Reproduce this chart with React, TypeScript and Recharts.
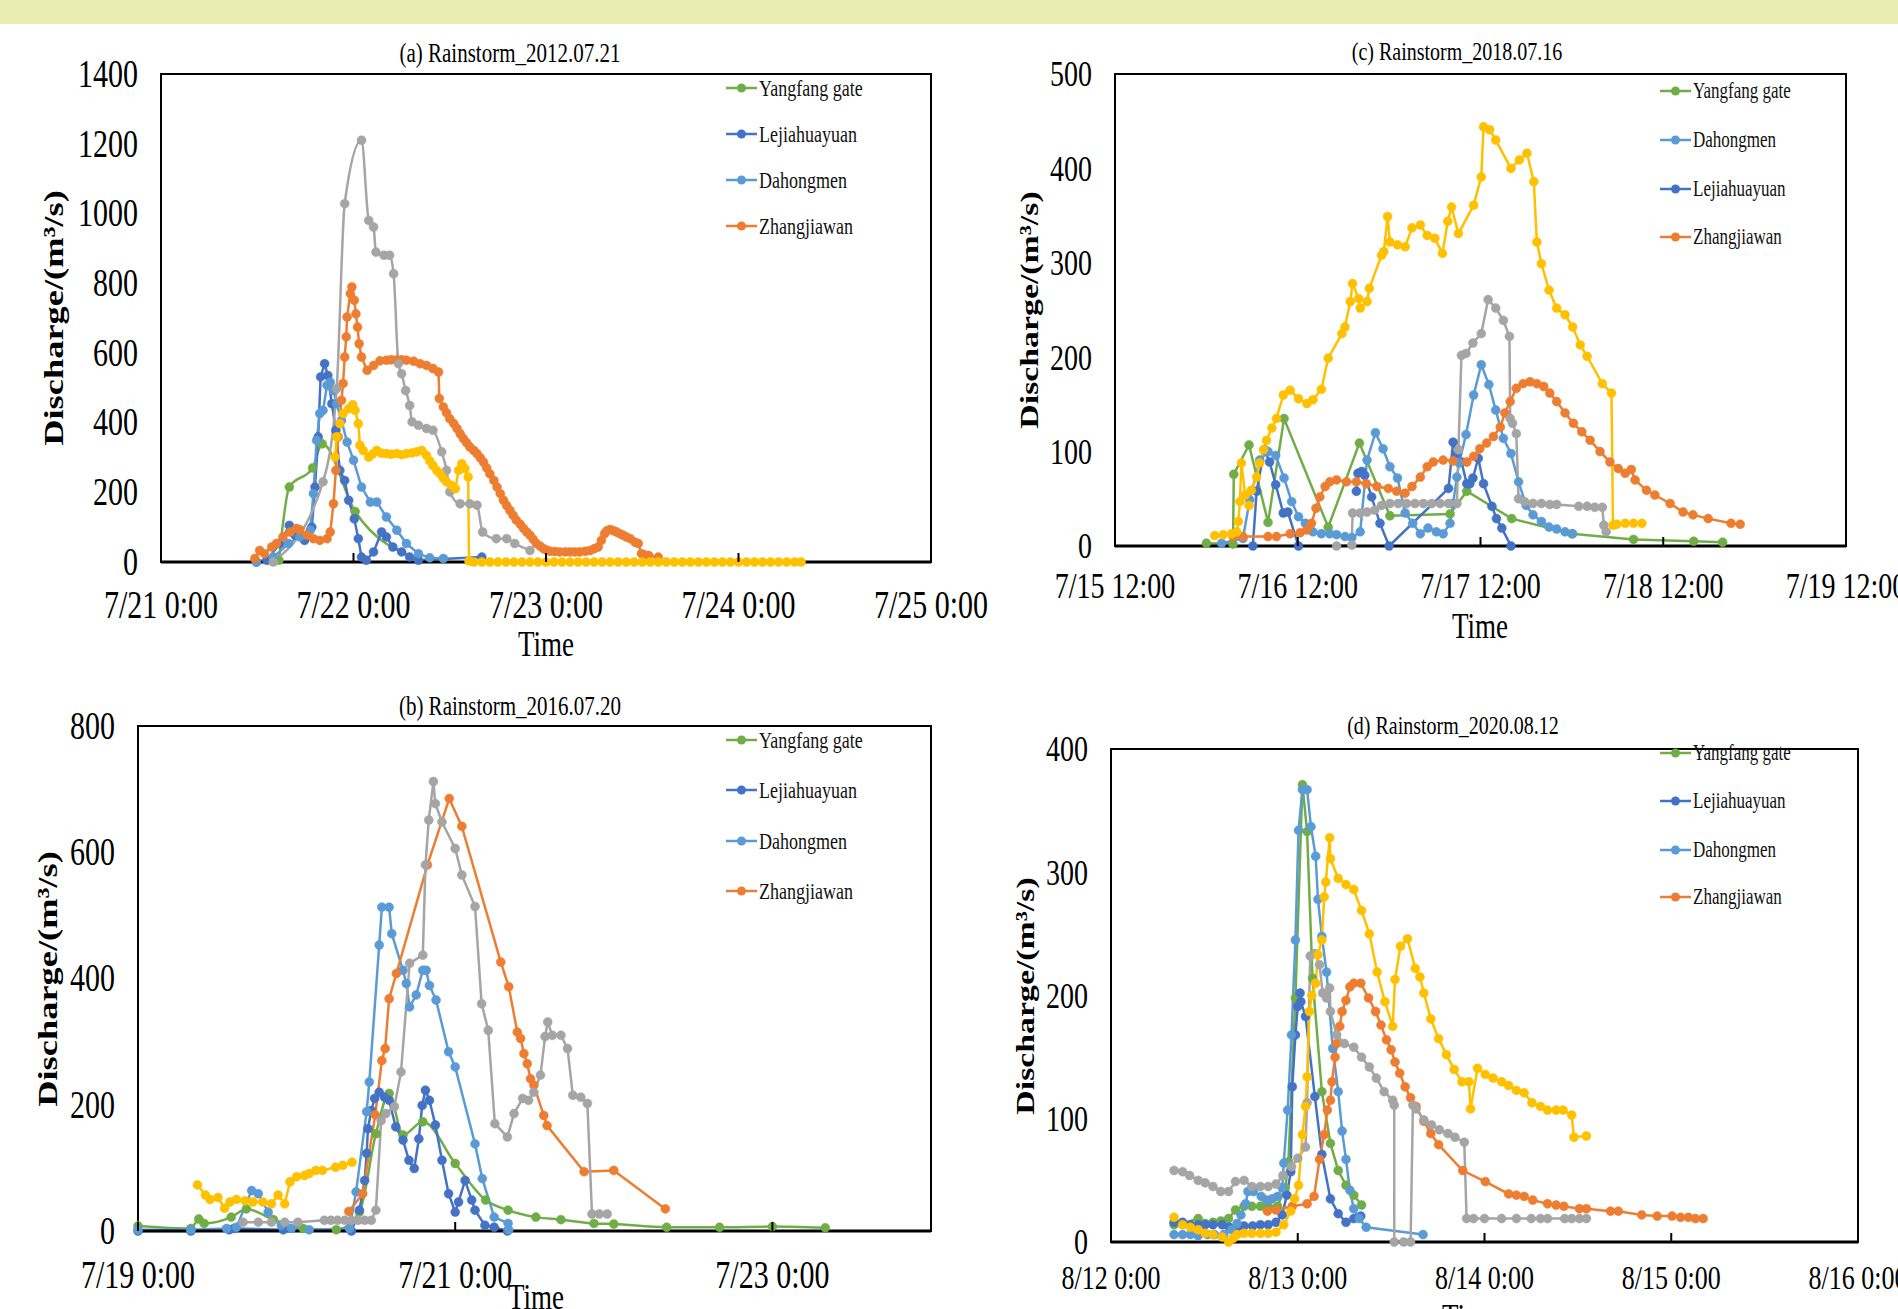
import { LineChart, Line, XAxis, YAxis, ReferenceArea } from 'recharts';

const SERIF = '"Liberation Serif", "Times New Roman", serif';

const GREEN = '#70AD47';
const DARK = '#4472C4';
const LIGHT = '#5B9BD5';
const ORANGE = '#ED7D31';
const GRAY = '#A5A5A5';
const YELLOW = '#FFC000';

// [hours since first axis tick, discharge m3/s]
type Pt = [number, number | null];

// ---- (a) Rainstorm_2012.07.21, hours after 7/21 0:00
const aGreen: Pt[] = [[14.7, 5], [16.0, 215], [18.9, 270], [20.1, 339], [24.2, 145], [32.0, 10]];
const aDark: Pt[] = [
  [11.9, 0], [13.2, 5], [14.8, 53], [16.0, 105], [16.7, 77], [17.9, 62], [18.8, 100], [19.2, 215], [19.6, 359],
  [19.9, 531], [20.4, 569], [20.8, 535], [21.3, 454], [21.8, 378], [22.3, 263], [22.9, 234], [23.4, 177], [24.1, 124],
  [24.6, 67], [25.0, 14], [25.6, 5], [26.5, 29], [27.5, 86], [28.1, 72], [28.9, 43], [30.0, 29], [31.0, 14], [32.1, 5],
  [40.0, 14],
];
const aLight: Pt[] = [
  [11.9, 0], [14.0, 14], [15.9, 53], [17.3, 72], [18.6, 91], [19.0, 196], [19.4, 349], [19.8, 426], [20.2, 435],
  [20.7, 507], [21.1, 516], [21.5, 492], [21.9, 454], [22.5, 406], [23.2, 344], [24.0, 292], [25.0, 215], [26.1, 172],
  [26.9, 172], [28.1, 129], [29.4, 91], [30.6, 53], [32.1, 24], [33.5, 12], [35.2, 10],
];
const aOrange: Pt[] = [
  [11.7, 10], [12.3, 33], [12.9, 24], [13.8, 43], [14.4, 53], [15.2, 72], [16.1, 86], [16.9, 96], [17.3, 93], [18.2, 77],
  [19.0, 67], [19.8, 62], [20.7, 67], [21.1, 86], [21.5, 167], [21.8, 263], [22.1, 359], [22.5, 464], [22.7, 512],
  [22.9, 588], [23.1, 646], [23.2, 703], [23.6, 770], [23.8, 789], [24.1, 751], [24.3, 712], [24.5, 674], [24.7, 626],
  [25.0, 588], [25.7, 550], [26.5, 564], [27.3, 577], [28.1, 579], [28.7, 580], [29.4, 580], [30.0, 580], [30.6, 579],
  [31.5, 576], [32.3, 569], [33.1, 564], [33.9, 555], [34.6, 545], [34.7, 469], [35.2, 445], [35.6, 428], [36.0, 411],
  [36.5, 397], [36.9, 383], [37.3, 368], [37.7, 354], [38.1, 342], [38.5, 330], [39.0, 320], [39.4, 311], [39.8, 299],
  [40.2, 287], [40.6, 270], [41.0, 253], [41.5, 234], [41.9, 215], [42.3, 196], [42.7, 177], [43.1, 162], [43.5, 148],
  [43.9, 134], [44.3, 120], [44.8, 108], [45.2, 96], [45.6, 86], [46.0, 77], [46.4, 65], [46.8, 53], [47.3, 45],
  [47.7, 38], [48.1, 34], [48.5, 31], [49.1, 30], [49.7, 29], [50.4, 29], [51.0, 29], [51.6, 29], [52.2, 29], [52.9, 31],
  [53.5, 33], [54.0, 38], [54.5, 43], [54.9, 62], [55.3, 81], [55.6, 90], [56.0, 93], [56.4, 90], [56.8, 86], [57.2, 81],
  [57.6, 77], [58.0, 72], [58.5, 67], [59.1, 57], [59.5, 53], [59.9, 24], [60.3, 20], [60.8, 19], [62.0, 14],
];
const aGray: Pt[] = [
  [14.0, 0], [20.2, 230], [21.9, 497], [22.9, 1028], [25.0, 1210], [25.9, 980], [26.5, 961], [26.8, 889], [27.8, 880],
  [28.5, 880], [29.0, 827], [29.6, 569], [30.0, 540], [30.5, 492], [31.0, 449], [31.3, 402], [32.1, 392], [33.1, 383],
  [33.9, 378], [35.0, 316], [35.6, 263], [36.0, 201], [37.3, 167], [38.5, 167], [39.4, 163], [40.1, 86], [41.8, 67],
  [43.1, 67], [44.1, 53], [46.0, 33],
];
const aYellow: Pt[] = [
  [21.7, 301], [21.9, 359], [22.3, 397], [22.7, 426], [23.4, 440], [23.9, 451], [24.2, 435], [24.6, 397], [24.8, 335],
  [25.2, 320], [25.9, 301], [26.4, 310], [26.9, 320], [27.5, 312], [28.1, 311], [28.7, 309], [29.4, 311], [30.0, 308],
  [30.6, 311], [31.3, 313], [31.9, 316], [32.5, 320], [33.1, 306], [33.5, 290], [33.9, 277], [34.4, 262], [34.8, 253],
  [35.2, 240], [35.6, 230], [36.2, 220], [36.7, 210], [37.1, 263], [37.5, 282], [37.9, 268], [38.3, 244], [38.4, 3],
  [39, 0], [40, 0], [41, 0], [42, 0], [43, 0], [44, 0], [45, 0], [46, 0], [47, 0], [48, 0], [49, 0], [50, 0], [51, 0],
  [52, 0], [53, 0], [54, 0], [55, 0], [56, 0], [57, 0], [58, 0], [59, 0], [60, 0], [61, 0], [62, 0], [63, 0], [64, 0],
  [65, 0], [66, 0], [67, 0], [68, 0], [69, 0], [70, 0], [71, 0], [72, 0], [73, 0], [74, 0], [75, 0], [76, 0], [77, 0],
  [78, 0], [79, 0], [79.8, 0],
];

// ---- (b) Rainstorm_2016.07.20, hours after 7/19 0:00
const bGreen: Pt[] = [
  [0, 8], [8.0, 4], [9.2, 19], [10.0, 12], [14.1, 22], [16.4, 35], [20.5, 18], [25.0, 4], [30.0, 2], [33.5, 30],
  [36.0, 154], [38.0, 218], [40.1, 152], [43.1, 173], [48.0, 107], [52.6, 49], [56.0, 33], [60.2, 22], [64.0, 18],
  [69.0, 12], [72.0, 11], [80.0, 6], [88.0, 6], [96.0, 7], [104.0, 5],
];
const bDark: Pt[] = [
  [0, 0], [8.0, 0], [13.8, 2], [14.5, 4], [22.0, 2], [32.3, 0], [33.5, 33], [34.3, 80], [34.6, 123], [34.8, 162],
  [35.3, 191], [35.8, 210], [36.5, 220], [37.3, 212], [38.0, 207], [39.0, 165], [40.1, 144], [41.0, 112], [41.8, 99],
  [42.5, 146], [43.0, 199], [43.5, 223], [44.1, 207], [45.0, 168], [46.0, 112], [47.0, 59], [48.0, 30], [48.5, 46],
  [49.5, 80], [50.5, 49], [51.0, 33], [52.5, 9], [53.9, 6], [55.9, 0],
];
const bLight: Pt[] = [
  [0, 2], [8.0, 2], [13.4, 4], [14.9, 6], [17.2, 64], [18.2, 59], [19.7, 30], [21.7, 9], [23.2, 4], [25.9, 2],
  [32.0, 4], [33.0, 62], [34.6, 189], [35.0, 236], [36.5, 453], [36.9, 513], [38.0, 513], [38.4, 471], [40.1, 413],
  [40.6, 392], [41.1, 355], [42.1, 374], [43.1, 413], [43.6, 413], [44.1, 389], [45.1, 366], [47.0, 284], [48.0, 260],
  [51.0, 138], [52.1, 83], [53.9, 22], [56.0, 12], [56.1, 2],
];
const bOrange: Pt[] = [
  [31.9, 31], [34.0, 59], [35.9, 184], [36.9, 270], [37.4, 289], [38.0, 368], [39.1, 408], [43.8, 580], [47.1, 685],
  [49.0, 641], [54.9, 426], [56.1, 387], [57.4, 315], [57.9, 305], [58.4, 281], [58.9, 265], [59.4, 241], [59.9, 231],
  [61.4, 183], [61.9, 167], [67.5, 94], [72.0, 96], [79.8, 35],
];
const bGray: Pt[] = [
  [15.9, 14], [18.2, 14], [20.2, 14], [22.2, 14], [24.2, 14], [28.2, 17], [29.2, 17], [30.2, 17], [31.3, 17],
  [32.3, 17], [33.3, 17], [34.3, 17], [35.3, 17], [36.0, 33], [36.8, 175], [37.5, 186], [38.8, 197], [39.8, 252],
  [41.1, 424], [43.1, 437], [43.5, 580], [44.0, 651], [44.7, 712], [45.0, 677], [46.0, 648], [48.0, 606], [49.0, 564],
  [51.0, 514], [52.0, 360], [53.0, 318], [54.0, 170], [55.9, 149], [56.9, 186], [58.2, 210], [59.1, 207], [59.9, 220],
  [60.9, 247], [61.6, 308], [62.0, 331], [62.7, 310], [64.0, 310], [65.0, 289], [65.8, 215], [67.0, 212], [68.0, 202],
  [68.7, 27], [69.8, 27], [71.0, 27],
];
const bYellow: Pt[] = [
  [9.0, 73], [10.2, 57], [10.9, 50], [12.1, 53], [13.1, 36], [13.9, 46], [14.9, 50], [16.2, 48], [17.4, 46], [18.9, 46],
  [20.2, 43], [21.2, 57], [22.2, 43], [23.0, 78], [24.0, 86], [25.2, 88], [25.9, 91], [26.9, 96], [27.9, 96],
  [29.9, 101], [31.0, 104], [32.4, 109],
];

// ---- (c) Rainstorm_2018.07.16, hours after 7/15 12:00
const cGreen: Pt[] = [
  [12.0, 3], [15.5, 2], [15.6, 76], [17.6, 107], [20.1, 25], [22.2, 135], [28.0, 20], [32.1, 109], [36.1, 32],
  [44.0, 34], [46.2, 58], [52.1, 29], [60.0, 13], [68.1, 7], [76.0, 5], [79.8, 4],
];
const cLight: Pt[] = [
  [14.0, 3], [16.8, 8], [17.7, 49], [19.0, 91], [20.1, 100], [21.1, 96], [22.2, 72], [23.2, 47], [24.1, 31], [25.0, 24],
  [26.0, 15], [27.1, 13], [28.2, 13], [29.1, 12], [30.2, 10], [31.1, 9], [32.2, 15], [33.1, 91], [34.2, 120],
  [35.2, 103], [36.1, 84], [37.1, 72], [38.1, 35], [39.1, 24], [40.1, 13], [41.1, 19], [42.2, 15], [43.1, 13],
  [44.0, 24], [44.4, 45], [44.9, 73], [45.2, 88], [46.1, 118], [47.1, 160], [48.1, 192], [49.1, 171], [50.0, 144],
  [51.0, 114], [52.0, 98], [53.0, 68], [54.0, 43], [54.9, 33], [56.0, 26], [57.0, 20], [58.0, 18], [59.1, 15], [60.1, 13],
];
const cDark: Pt[] = [
  [18.1, 0], [18.6, 58], [19.6, 102], [20.3, 89], [21.1, 65], [22.1, 35], [22.7, 36], [24.1, 0], [28.0, null],
  [31.7, 58], [31.9, 77], [32.4, 79], [32.8, 75], [33.7, 52], [34.8, 24], [36.0, 0], [43.8, 61], [44.4, 110],
  [44.9, 98], [45.5, 89], [46.2, 66], [46.6, 66], [47.0, 72], [47.7, 93], [48.4, 66], [49.5, 42], [50.1, 29],
  [50.8, 19], [52.0, 0],
];
const cOrange: Pt[] = [
  [15.5, 10], [16.8, 10], [20.1, 10], [21.2, 10], [23.0, 13], [24.3, 14], [25.2, 17], [25.8, 24], [26.4, 40], [26.9, 52],
  [27.6, 63], [28.2, 68], [29.1, 70], [30.4, 68], [31.7, 68], [33.0, 66], [34.4, 63], [35.9, 61], [37.0, 58], [38.1, 56],
  [39.0, 63], [40.1, 73], [41.0, 84], [41.8, 89], [43.1, 91], [44.4, 90], [46.2, 89], [47.1, 95], [47.9, 103],
  [48.8, 109], [49.7, 116], [50.6, 126], [51.2, 141], [51.9, 153], [52.7, 167], [53.6, 172], [54.5, 174], [55.4, 172],
  [56.3, 169], [57.1, 162], [58.0, 153], [59.1, 141], [60.2, 130], [61.3, 121], [62.4, 112], [63.7, 100], [65.0, 89],
  [66.1, 82], [67.0, 77], [67.8, 81], [68.3, 70], [69.8, 59], [70.9, 54], [72.9, 45], [74.6, 36], [75.9, 33],
  [77.9, 29], [80.9, 24], [82.1, 23],
];
const cGray: Pt[] = [
  [29.1, 0], [31.1, 1], [31.2, 35], [32.2, 35], [33.1, 36], [34.1, 38], [35.0, 43], [36.1, 45], [37.2, 45], [38.3, 45],
  [39.4, 45], [40.5, 45], [41.6, 45], [42.7, 45], [43.8, 45], [44.9, 45], [45.1, 102], [45.5, 202], [46.1, 204],
  [47.0, 215], [48.1, 225], [49.0, 261], [50.0, 252], [51.0, 239], [51.8, 222], [51.9, 135], [52.2, 130], [52.7, 119],
  [53.0, 50], [53.8, 47], [54.9, 45], [56.0, 45], [57.1, 44], [58.0, 44], [60.9, 42], [62.0, 42], [63.0, 41],
  [64.0, 41], [64.2, 22], [64.5, 15],
];
const cYellow: Pt[] = [
  [13.1, 11], [14.2, 12], [15.3, 13], [16.0, 15], [16.2, 26], [16.4, 47], [16.6, 88], [17.1, 54], [17.6, 43], [17.9, 59],
  [18.6, 73], [19.0, 88], [19.5, 102], [19.9, 112], [20.6, 125], [21.2, 135], [22.1, 160], [23.0, 165], [24.1, 156],
  [25.2, 151], [26.0, 155], [27.1, 166], [28.0, 199], [29.8, 225], [30.2, 232], [30.9, 259], [31.2, 278], [32.0, 262],
  [32.2, 252], [33.1, 259], [33.4, 273], [35.0, 308], [35.3, 312], [35.8, 349], [36.1, 322], [37.1, 319], [38.1, 317],
  [39.0, 337], [40.1, 340], [41.0, 329], [42.0, 326], [43.0, 310], [43.7, 344], [44.2, 359], [45.1, 331], [47.1, 361],
  [48.1, 391], [48.4, 444], [49.2, 441], [50.0, 430], [52.0, 400], [53.1, 409], [54.1, 416], [55.0, 386], [55.4, 322],
  [56.0, 299], [57.0, 271], [58.0, 252], [59.1, 245], [60.1, 232], [61.1, 213], [62.0, 201], [64.0, 172], [65.2, 162],
  [65.4, 22], [65.9, 23], [67.0, 24], [68.1, 24], [69.2, 24],
];

// ---- (d) Rainstorm_2020.08.12, hours after 8/12 0:00
const dGreen: Pt[] = [
  [8.1, 14], [9.2, 15], [11.2, 19], [12.1, 15], [13.1, 16], [14.1, 17], [15.1, 19], [16.0, 26], [17.1, 29], [18.1, 29],
  [19.2, 29], [20.2, 29], [21.4, 29], [22.4, 44], [22.8, 65], [23.7, 198], [24.6, 371], [25.2, 333], [25.9, 214],
  [27.1, 122], [28.2, 80], [29.2, 58], [30.2, 46], [31.2, 38], [32.2, 30],
];
const dDark: Pt[] = [
  [8.1, 16], [9.2, 16], [10.2, 14], [11.2, 14], [12.1, 14], [13.1, 14], [14.3, 14], [15.2, 12], [16.2, 12], [17.1, 13],
  [18.2, 13], [19.2, 14], [20.2, 14], [21.2, 16], [22.0, 22], [22.6, 38], [23.1, 57], [23.3, 126], [23.7, 168],
  [24.0, 191], [24.3, 202], [24.4, 195], [25.0, 183], [26.2, 118], [27.1, 71], [28.2, 35], [29.2, 23], [30.2, 16],
  [31.2, 19], [32.1, 21],
];
const dLight: Pt[] = [
  [8.1, 6], [9.2, 6], [10.2, 6], [11.2, 5], [12.4, 6], [13.3, 6], [14.5, 6], [15.5, 10], [16.2, 15], [16.7, 22],
  [17.3, 31], [17.6, 41], [18.3, 41], [19.3, 37], [20.0, 34], [20.7, 35], [21.4, 37], [22.0, 44], [22.2, 64],
  [22.7, 107], [23.2, 168], [23.7, 245], [24.1, 334], [24.6, 367], [25.2, 367], [25.7, 337], [26.3, 313], [26.6, 278],
  [27.1, 248], [27.7, 219], [28.5, 157], [29.2, 122], [29.7, 90], [30.2, 67], [30.7, 42], [31.2, 27], [31.9, 19],
  [32.8, 12], [40.1, 6],
];
const dOrange: Pt[] = [
  [20.1, 25], [21.2, 26], [23.3, 29], [25.2, 31], [26.1, 37], [26.8, 67], [27.4, 87], [27.8, 107], [28.2, 115],
  [28.4, 130], [28.8, 150], [29.0, 161], [29.4, 175], [29.7, 187], [30.2, 196], [30.7, 207], [31.2, 210], [32.1, 210],
  [33.1, 198], [34.0, 187], [34.7, 176], [35.4, 164], [36.0, 156], [36.5, 146], [37.1, 137], [37.8, 126], [38.5, 117],
  [39.2, 110], [40.2, 98], [41.1, 88], [42.1, 79], [45.2, 58], [48.1, 49], [51.1, 39], [52.1, 38], [53.1, 37],
  [54.2, 34], [56.1, 31], [57.2, 30], [58.2, 29], [60.2, 27], [61.1, 27], [64.2, 25], [65.2, 25], [68.2, 22],
  [70.2, 21], [72.1, 21], [73.2, 20], [74.2, 20], [75.1, 19], [76.1, 19],
];
const dGray: Pt[] = [
  [8.1, 58], [9.2, 57], [10.1, 54], [11.2, 50], [12.1, 48], [13.1, 45], [14.1, 41], [15.1, 41], [16.0, 49], [17.1, 50],
  [18.1, 45], [19.2, 45], [20.2, 45], [21.2, 47], [22.1, 54], [23.2, 61], [24.0, 68], [25.0, 77], [25.2, 113],
  [25.6, 232], [26.2, 234], [26.8, 225], [27.2, 202], [27.7, 198], [28.1, 206], [28.2, 187], [29.0, 168], [30.0, 161],
  [31.2, 158], [32.2, 150], [33.2, 142], [34.1, 133], [35.1, 122], [36.2, 115], [36.4, 111], [36.4, 0], [37.6, 0],
  [38.5, 0], [38.8, 111], [39.2, 108], [40.2, 99], [41.2, 95], [42.2, 91], [43.3, 88], [44.2, 85], [45.4, 81],
  [45.7, 19], [46.6, 19], [48.0, 19], [50.2, 19], [52.1, 19], [54.0, 19], [55.2, 19], [56.1, 19], [58.3, 19],
  [59.2, 19], [60.2, 19], [61.1, 19],
];
const dYellow: Pt[] = [
  [8.1, 20], [9.2, 14], [10.2, 12], [11.2, 10], [12.1, 7], [13.1, 6], [14.3, 4], [15.1, 0], [15.7, 3], [16.2, 6],
  [17.1, 7], [18.1, 7], [19.2, 7], [20.2, 7], [21.2, 8], [22.2, 14], [23.1, 25], [23.6, 35], [24.1, 46], [24.6, 87],
  [25.0, 110], [25.2, 134], [25.5, 187], [25.8, 200], [26.3, 210], [26.6, 233], [27.1, 245], [27.4, 280], [27.6, 292],
  [28.1, 328], [28.2, 311], [29.2, 295], [30.2, 290], [31.2, 286], [32.2, 269], [33.2, 250], [34.2, 219], [35.2, 195],
  [36.2, 175], [36.5, 213], [37.2, 240], [38.1, 246], [39.1, 222], [39.7, 215], [40.2, 202], [41.1, 181], [42.1, 165],
  [43.1, 152], [44.1, 140], [45.1, 130], [46.0, 130], [46.2, 108], [47.1, 141], [48.1, 136], [49.1, 133], [50.2, 130],
  [51.1, 127], [52.1, 123], [53.1, 121], [54.1, 113], [55.2, 110], [56.1, 107], [57.2, 107], [58.1, 107], [59.2, 103],
  [59.5, 85], [61.1, 86],
];

const dayTicks = [0, 24, 48, 72, 96];
const aXLabels = ['7/21 0:00', '7/22 0:00', '7/23 0:00', '7/24 0:00', '7/25 0:00'];
const bXTicks = [0, 48, 96];
const bXLabels = ['7/19 0:00', '7/21 0:00', '7/23 0:00'];
const cXLabels = ['7/15 12:00', '7/16 12:00', '7/17 12:00', '7/18 12:00', '7/19 12:00'];
const dXLabels = ['8/12 0:00', '8/13 0:00', '8/14 0:00', '8/15 0:00', '8/16 0:00'];
const aYTicks = [0, 200, 400, 600, 800, 1000, 1200, 1400];
const bYTicks = [0, 200, 400, 600, 800];
const cYTicks = [0, 100, 200, 300, 400, 500];
const dYTicks = [0, 100, 200, 300, 400];

const legendA = ['Yangfang gate', 'Lejiahuayuan', 'Dahongmen', 'Zhangjiawan'];
const legendC = ['Yangfang gate', 'Dahongmen', 'Lejiahuayuan', 'Zhangjiawan'];
const legendColor: Record<string, string> = {
  'Yangfang gate': GREEN,
  Lejiahuayuan: DARK,
  Dahongmen: LIGHT,
  Zhangjiawan: ORANGE,
};

interface Series {
  color: string;
  pts: Pt[];
  smooth?: boolean;
}

interface PanelCfg {
  title: string;
  titleAt: [number, number];
  titleSize: number;
  plot: [number, number, number, number];
  xMax: number;
  xTicks: number[];
  xLabels: string[];
  xFont: number;
  xGap: number;
  yMax: number;
  yTicks: number[];
  yFont: number;
  yLabelX: number;
  yLabelSize: number;
  timeAt: [number, number];
  timeSize: number;
  legend: string[];
  legendX: number;
  legendRows: number[];
  legendSize: number;
  series: Series[];
}

const rows = (pts: Pt[]) => pts.map(([h, v]) => ({ h, v }));

const XTick = (props: any) => {
  const { x, y, payload, labels, ticks, fs, gap } = props;
  const label = labels[ticks.indexOf(payload.value)];
  return (
    <g>
      <line x1={x} x2={x} y1={y} y2={y - 9} stroke="#000" strokeWidth={2} />
      <text
        transform={`translate(${x},${y + gap}) scale(1,1.3)`}
        textAnchor="middle"
        dominantBaseline="central"
        fontFamily={SERIF}
        fontSize={fs}
        fill="#000"
      >
        {label}
      </text>
    </g>
  );
};

const YTick = (props: any) => {
  const { x, y, payload, fs } = props;
  return (
    <text
      transform={`translate(${x - 23},${y}) scale(1,1.3)`}
      textAnchor="end"
      dominantBaseline="central"
      fontFamily={SERIF}
      fontSize={fs}
      fill="#000"
    >
      {payload.value}
    </text>
  );
};

const TOP = 40;

const Panel = ({ cfg }: { cfg: PanelCfg }) => {
  const [pl, pt, pr, pb] = cfg.plot;
  const w = pr - pl + 230;
  const h = pb - pt + TOP + 70;
  return (
    <>
      <div style={{ position: 'absolute', left: pl - 150, top: pt - TOP }}>
        <LineChart width={w} height={h} margin={{ top: TOP, right: 80, left: 90, bottom: 40 }}>
          <XAxis
            type="number"
            dataKey="h"
            domain={[0, cfg.xMax]}
            ticks={cfg.xTicks}
            interval={0}
            height={30}
            tickSize={0}
            tickMargin={0}
            tickLine={false}
            axisLine={{ stroke: '#000', strokeWidth: 3 }}
            tick={(p: any) => <XTick {...p} labels={cfg.xLabels} ticks={cfg.xTicks} fs={cfg.xFont} gap={cfg.xGap} />}
          />
          <YAxis
            type="number"
            domain={[0, cfg.yMax]}
            ticks={cfg.yTicks}
            interval={0}
            width={60}
            tickSize={0}
            tickMargin={0}
            tickLine={false}
            axisLine={{ stroke: '#000', strokeWidth: 2 }}
            tick={(p: any) => <YTick {...p} fs={cfg.yFont} />}
          />
          <ReferenceArea
            x1={0}
            x2={cfg.xMax}
            y1={0}
            y2={cfg.yMax}
            fill="none"
            fillOpacity={0}
            stroke="#000"
            strokeWidth={2}
            ifOverflow="visible"
          />
          {cfg.series.map((s, i) => (
            <Line
              key={i}
              data={rows(s.pts)}
              dataKey="v"
              type={s.smooth ? 'monotone' : 'linear'}
              stroke={s.color}
              strokeWidth={2.5}
              dot={{ r: 4.5, fill: s.color, stroke: s.color, strokeWidth: 0.5 }}
              activeDot={false}
              legendType="none"
              isAnimationActive={false}
            />
          ))}
        </LineChart>
      </div>

      <div
        style={{
          position: 'absolute',
          left: cfg.titleAt[0],
          top: cfg.titleAt[1],
          transform: 'translate(-50%,-50%) scale(1,1.3)',
          fontFamily: SERIF,
          fontSize: cfg.titleSize,
          whiteSpace: 'nowrap',
          color: '#000',
        }}
      >
        {cfg.title}
      </div>

      <div
        style={{
          position: 'absolute',
          left: cfg.yLabelX,
          top: (pt + pb) / 2,
          transform: 'translate(-50%,-50%) rotate(-90deg) scale(1.3,1)',
          fontFamily: SERIF,
          fontWeight: 700,
          fontSize: cfg.yLabelSize,
          whiteSpace: 'nowrap',
          color: '#000',
        }}
      >
        Discharge/(m³/s)
      </div>

      <div
        style={{
          position: 'absolute',
          left: cfg.timeAt[0],
          top: cfg.timeAt[1],
          transform: 'translate(-50%,-50%) scale(1,1.3)',
          fontFamily: SERIF,
          fontSize: cfg.timeSize,
          whiteSpace: 'nowrap',
          color: '#000',
        }}
      >
        Time
      </div>

      {cfg.legend.map((name, i) => (
        <div
          key={name}
          style={{
            position: 'absolute',
            left: cfg.legendX,
            top: cfg.legendRows[i] - 12,
            height: 24,
            display: 'flex',
            alignItems: 'center',
            whiteSpace: 'nowrap',
          }}
        >
          <svg width={31} height={24}>
            <line x1={0} y1={12} x2={31} y2={12} stroke={legendColor[name]} strokeWidth={2.5} />
            <circle cx={15.5} cy={12} r={4.5} fill={legendColor[name]} />
          </svg>
          <span
            style={{
              fontFamily: SERIF,
              fontSize: cfg.legendSize,
              marginLeft: 2,
              display: 'inline-block',
              transform: 'scale(1,1.3)',
              color: '#111',
            }}
          >
            {name}
          </span>
        </div>
      ))}
    </>
  );
};

const panels: PanelCfg[] = [
  {
    title: '(a) Rainstorm_2012.07.21',
    titleAt: [510, 54],
    titleSize: 21,
    plot: [161, 74, 931, 562],
    xMax: 96,
    xTicks: dayTicks,
    xLabels: aXLabels,
    xFont: 30,
    xGap: 43,
    yMax: 1400,
    yTicks: aYTicks,
    yFont: 30,
    yLabelX: 54,
    yLabelSize: 28,
    timeAt: [546, 645],
    timeSize: 27,
    legend: legendA,
    legendX: 726,
    legendRows: [88, 134, 180, 226],
    legendSize: 18,
    series: [
      { color: GREEN, pts: aGreen, smooth: true },
      { color: DARK, pts: aDark },
      { color: LIGHT, pts: aLight },
      { color: ORANGE, pts: aOrange },
      { color: GRAY, pts: aGray, smooth: true },
      { color: YELLOW, pts: aYellow },
    ],
  },
  {
    title: '(b) Rainstorm_2016.07.20',
    titleAt: [510, 707],
    titleSize: 21,
    plot: [138, 726, 931, 1231],
    xMax: 120,
    xTicks: bXTicks,
    xLabels: bXLabels,
    xFont: 30,
    xGap: 44,
    yMax: 800,
    yTicks: bYTicks,
    yFont: 30,
    yLabelX: 48,
    yLabelSize: 28,
    timeAt: [536, 1298],
    timeSize: 27,
    legend: legendA,
    legendX: 726,
    legendRows: [740, 790, 841, 891],
    legendSize: 18,
    series: [
      { color: GREEN, pts: bGreen, smooth: true },
      { color: DARK, pts: bDark },
      { color: LIGHT, pts: bLight },
      { color: ORANGE, pts: bOrange },
      { color: GRAY, pts: bGray },
      { color: YELLOW, pts: bYellow },
    ],
  },
  {
    title: '(c) Rainstorm_2018.07.16',
    titleAt: [1457, 52],
    titleSize: 20,
    plot: [1115, 74, 1846, 546],
    xMax: 96,
    xTicks: dayTicks,
    xLabels: cXLabels,
    xFont: 28,
    xGap: 40,
    yMax: 500,
    yTicks: cYTicks,
    yFont: 28,
    yLabelX: 1030,
    yLabelSize: 26,
    timeAt: [1480, 627],
    timeSize: 27,
    legend: legendC,
    legendX: 1660,
    legendRows: [91, 140, 189, 237],
    legendSize: 17,
    series: [
      { color: GREEN, pts: cGreen },
      { color: DARK, pts: cDark },
      { color: LIGHT, pts: cLight },
      { color: ORANGE, pts: cOrange },
      { color: GRAY, pts: cGray },
      { color: YELLOW, pts: cYellow },
    ],
  },
  {
    title: '(d) Rainstorm_2020.08.12',
    titleAt: [1453, 726],
    titleSize: 20,
    plot: [1111, 749, 1858, 1242],
    xMax: 96,
    xTicks: dayTicks,
    xLabels: dXLabels,
    xFont: 26,
    xGap: 36,
    yMax: 400,
    yTicks: dYTicks,
    yFont: 28,
    yLabelX: 1026,
    yLabelSize: 26,
    timeAt: [1470, 1318],
    timeSize: 27,
    legend: legendA,
    legendX: 1660,
    legendRows: [753, 801, 850, 897],
    legendSize: 17,
    series: [
      { color: GREEN, pts: dGreen },
      { color: DARK, pts: dDark },
      { color: LIGHT, pts: dLight },
      { color: ORANGE, pts: dOrange },
      { color: GRAY, pts: dGray },
      { color: YELLOW, pts: dYellow },
    ],
  },
];

const App = () => (
  <div
    style={{
      position: 'absolute',
      left: 0,
      top: 0,
      width: 1898,
      height: 1309,
      overflow: 'hidden',
      background: '#fff',
    }}
  >
    <div style={{ position: 'absolute', left: 0, top: 0, width: 1898, height: 24, background: '#E9EDB1' }} />
    {panels.map((p) => (
      <Panel key={p.title} cfg={p} />
    ))}
  </div>
);

export default App;
